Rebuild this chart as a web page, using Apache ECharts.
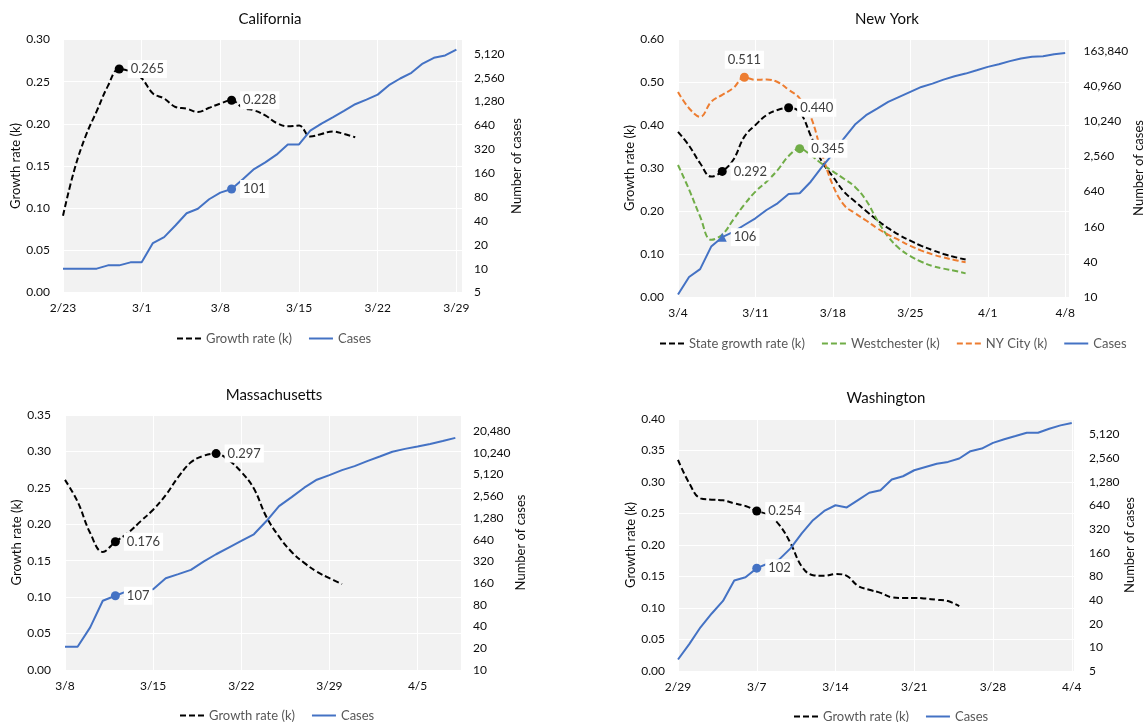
<!DOCTYPE html>
<html>
<head>
<meta charset="utf-8">
<title>Growth rate (k) and cases</title>
<script src="https://cdn.jsdelivr.net/npm/echarts@6/dist/echarts.min.js"></script>
<style>
  html, body { margin: 0; padding: 0; background: #fff; }
  #chart { width: 1146px; height: 722px; }
</style>
</head>
<body>
<div id="chart"></div>
<script>
// tick labels, one every 7 days
const caTicks = ['2/23', '3/1', '3/8', '3/15', '3/22', '3/29'];
const nyTicks = ['3/4', '3/11', '3/18', '3/25', '4/1', '4/8'];
const maTicks = ['3/8', '3/15', '3/22', '3/29', '4/5'];
const waTicks = ['2/29', '3/7', '3/14', '3/21', '3/28', '4/4'];

// California (day 0 = 2/23)
const caGrowth = [0.091, 0.145, 0.185, 0.215, 0.245, 0.265, 0.262, 0.254, 0.236, 0.230, 0.220, 0.218, 0.214, 0.219, 0.224, 0.228, 0.219, 0.216, 0.210, 0.201, 0.197, 0.198, 0.185, 0.188, 0.191, 0.188, 0.184];
const caCases = [10, 10, 10, 10, 11, 11, 12, 12, 21, 25, 35, 50, 57, 75, 91, 101, 134, 180, 219, 274, 368, 368, 550, 675, 810, 977, 1185, 1355, 1565, 2060, 2500, 2950, 3860, 4560, 4880, 5800];
const caGrowthMarks = [5, 15];
const caCaseMarks = [15];

// New York (day 0 = 3/4)
const nyState = [0.384, 0.352, 0.311, 0.280, 0.292, 0.319, 0.373, 0.400, 0.423, 0.435, 0.440, 0.430, 0.375, 0.315, 0.280, 0.245, 0.222, 0.200, 0.179, 0.160, 0.144, 0.131, 0.119, 0.109, 0.100, 0.093, 0.087];
const nyWest = [0.307, 0.250, 0.187, 0.133, 0.145, 0.180, 0.215, 0.245, 0.268, 0.295, 0.328, 0.345, 0.330, 0.310, 0.292, 0.275, 0.256, 0.225, 0.179, 0.140, 0.113, 0.095, 0.082, 0.072, 0.066, 0.061, 0.055];
const nyCity = [0.477, 0.439, 0.419, 0.454, 0.470, 0.486, 0.511, 0.505, 0.506, 0.500, 0.482, 0.462, 0.419, 0.334, 0.260, 0.214, 0.195, 0.178, 0.160, 0.145, 0.132, 0.119, 0.108, 0.099, 0.092, 0.086, 0.081];
const nyCases = [11, 22, 30, 73, 106, 130, 171, 223, 309, 403, 581, 597, 944, 1670, 2820, 5230, 9000, 13000, 16900, 22000, 26800, 32600, 39600, 45200, 52900, 60400, 67100, 76500, 87400, 96900, 109600, 121700, 129800, 133000, 143800, 151600];
const nyStateMarks = [4, 10];
const nyWestMarks = [11];
const nyCityMarks = [6];
const nyCaseMarks = [4];

// Massachusetts (day 0 = 3/8)
const maGrowth = [0.261, 0.231, 0.188, 0.162, 0.176, 0.188, 0.204, 0.220, 0.240, 0.265, 0.285, 0.294, 0.297, 0.288, 0.272, 0.249, 0.210, 0.183, 0.162, 0.147, 0.135, 0.126, 0.118];
const maCases = [21, 21, 39, 91, 107, 125, 132, 132, 187, 213, 244, 318, 402, 497, 614, 760, 1160, 1870, 2490, 3360, 4340, 5020, 5890, 6700, 7860, 9110, 10600, 11600, 12500, 13600, 14900, 16500];
const maGrowthMarks = [4, 12];
const maCaseMarks = [4];

// Washington (day 0 = 2/29)
const waGrowth = [0.335, 0.298, 0.274, 0.272, 0.271, 0.266, 0.262, 0.254, 0.248, 0.232, 0.203, 0.166, 0.152, 0.151, 0.154, 0.151, 0.135, 0.129, 0.124, 0.117, 0.116, 0.116, 0.115, 0.113, 0.111, 0.103];
const waCases = [7, 11, 18, 27, 39, 71, 78, 102, 117, 132, 182, 282, 416, 546, 645, 605, 750, 930, 1004, 1370, 1510, 1800, 1980, 2180, 2300, 2540, 3150, 3400, 4020, 4460, 4910, 5410, 5410, 6090, 6710, 7190];
const waGrowthMarks = [7];
const waCaseMarks = [7];

const BLUE = '#4472C4', ORANGE = '#ED7D31', GREEN = '#70AD47', BLACK = '#000000';
const FONT = 'Lato';
const TXT = '#0d0d0d';

const chart = echarts.init(document.getElementById('chart'));

const markLabel = {
    show: true, position: 'right', distance: 4,
    fontFamily: FONT, fontSize: 13, color: '#404040',
    backgroundColor: '#fff', padding: [3, 3, 2, 3]
};

function grid(left, top, width, height) {
    return { left, top, width, height, show: true, backgroundColor: '#F2F2F2', borderWidth: 0 };
}

function dayAxis(gridIndex, ticks, max) {
    return {
        type: 'value', gridIndex, min: 0, max, interval: 7,
        axisLine: { show: false }, axisTick: { show: false },
        axisLabel: {
            margin: 10, fontSize: 12, color: TXT, fontFamily: FONT,
            formatter: v => (v % 7 === 0 && ticks[v / 7]) ? ticks[v / 7] : ''
        },
        splitLine: { show: true, lineStyle: { color: '#fff', width: 1 } }
    };
}

function rateAxis(gridIndex, max, interval, gap, margin) {
    return {
        type: 'value', gridIndex, position: 'left', min: 0, max, interval,
        name: 'Growth rate (k)', nameLocation: 'middle', nameGap: gap,
        nameTextStyle: { fontSize: 13, color: TXT, fontFamily: FONT },
        axisLine: { show: false }, axisTick: { show: false },
        axisLabel: { margin, fontSize: 12, color: TXT, fontFamily: FONT, formatter: v => v.toFixed(2) },
        splitLine: { show: true, lineStyle: { color: '#fff', width: 1 } }
    };
}

// cases drawn as log2(cases / base) on a linear axis, labelled back in cases
function caseAxis(gridIndex, base, step, max, gap, margin) {
    return {
        type: 'value', gridIndex, position: 'right', min: 0, max, interval: step,
        name: 'Number of cases', nameLocation: 'middle', nameGap: gap,
        nameTextStyle: { fontSize: 13, color: TXT, fontFamily: FONT },
        axisLine: { show: false }, axisTick: { show: false },
        axisLabel: {
            margin, fontSize: 12, color: TXT, fontFamily: FONT, showMaxLabel: false,
            formatter: v => Math.round(base * Math.pow(2, v)).toLocaleString('en-US')
        },
        splitLine: { show: false }
    };
}

function rateSeries(name, values, color, panel) {
    return {
        type: 'line', name, xAxisIndex: panel, yAxisIndex: panel * 2,
        smooth: 0.4, symbol: 'none', z: 3,
        lineStyle: { color, width: 2, type: [6, 3] },
        itemStyle: { color },
        data: values.map((v, i) => [i, v])
    };
}

function caseSeries(values, base, panel) {
    return {
        type: 'line', name: 'Cases', xAxisIndex: panel, yAxisIndex: panel * 2 + 1,
        symbol: 'none', z: 4,
        lineStyle: { color: BLUE, width: 2 },
        itemStyle: { color: BLUE },
        data: values.map((c, i) => [i, Math.log2(c / base)])
    };
}

// highlighted points with their value boxes, drawn above all lines
function rateMarks(values, marks, color, panel, pos) {
    return {
        type: 'scatter', name: 'marks', xAxisIndex: panel, yAxisIndex: panel * 2,
        symbol: 'circle', symbolSize: 9, z: 10,
        itemStyle: { color, opacity: 1 },
        label: Object.assign({}, markLabel, { position: pos || 'right', formatter: p => p.value[1].toFixed(3) }),
        data: marks.map(i => [i, values[i]])
    };
}

function caseMarks(values, base, marks, panel, symbol) {
    return {
        type: 'scatter', name: 'marks', xAxisIndex: panel, yAxisIndex: panel * 2 + 1,
        symbol: symbol || 'circle', symbolSize: 9, z: 10,
        itemStyle: { color: BLUE, opacity: 1 },
        label: Object.assign({}, markLabel, { formatter: p => String(values[p.value[0]]) }),
        data: marks.map(i => [i, Math.log2(values[i] / base)])
    };
}

function title(text, x, top) {
    return { text, left: x, top, textAlign: 'center',
        textStyle: { fontSize: 15, fontWeight: 'normal', color: TXT, fontFamily: FONT } };
}

function legend(left, top, names) {
    return {
        left, top, data: names, itemWidth: 24, itemHeight: 12, itemGap: 16,
        itemStyle: { opacity: 0 },
        textStyle: { fontSize: 13, color: '#595959', fontFamily: FONT }
    };
}

const option = {
    animation: false,
    title: [
        title('California', 265, 7),
        title('New York', 882, 7),
        title('Massachusetts', 269, 383),
        title('Washington', 881, 386)
    ],
    legend: [
        legend(171, 327, ['Growth rate (k)', 'Cases']),
        legend(654, 332, ['State growth rate (k)', 'Westchester (k)', 'NY City (k)', 'Cases']),
        legend(174, 704, ['Growth rate (k)', 'Cases']),
        legend(788, 705, ['Growth rate (k)', 'Cases'])
    ],
    grid: [
        grid(63, 39.5, 399, 253),
        grid(678, 39, 393, 258),
        grid(65, 415, 396, 255),
        grid(678, 419, 396, 252)
    ],
    xAxis: [
        dayAxis(0, caTicks, 35.5),
        dayAxis(1, nyTicks, 35.4),
        dayAxis(2, maTicks, 31.45),
        dayAxis(3, waTicks, 35.2)
    ],
    yAxis: [
        rateAxis(0, 0.30, 0.05, 39, 13),
        caseAxis(0, 5, 1, 10.6, 48, 12),
        rateAxis(1, 0.60, 0.10, 39, 14),
        caseAxis(1, 10, 2, 14.68, 62, 14),
        rateAxis(2, 0.35, 0.05, 39, 14),
        caseAxis(2, 10, 1, 11.74, 53, 12),
        rateAxis(3, 0.40, 0.05, 38, 13),
        caseAxis(3, 5, 1, 10.66, 49, 15)
    ],
    series: [
        rateSeries('Growth rate (k)', caGrowth, BLACK, 0),
        caseSeries(caCases, 5, 0),
        rateSeries('State growth rate (k)', nyState, BLACK, 1),
        rateSeries('Westchester (k)', nyWest, GREEN, 1),
        rateSeries('NY City (k)', nyCity, ORANGE, 1),
        caseSeries(nyCases, 10, 1),
        rateSeries('Growth rate (k)', maGrowth, BLACK, 2),
        caseSeries(maCases, 10, 2),
        rateSeries('Growth rate (k)', waGrowth, BLACK, 3),
        caseSeries(waCases, 5, 3),
        rateMarks(caGrowth, caGrowthMarks, BLACK, 0),
        caseMarks(caCases, 5, caCaseMarks, 0),
        rateMarks(nyState, nyStateMarks, BLACK, 1),
        rateMarks(nyWest, nyWestMarks, GREEN, 1),
        rateMarks(nyCity, nyCityMarks, ORANGE, 1, 'top'),
        caseMarks(nyCases, 10, nyCaseMarks, 1, 'triangle'),
        rateMarks(maGrowth, maGrowthMarks, BLACK, 2),
        caseMarks(maCases, 10, maCaseMarks, 2),
        rateMarks(waGrowth, waGrowthMarks, BLACK, 3),
        caseMarks(waCases, 5, waCaseMarks, 3)
    ]
};

chart.setOption(option);
</script>
</body>
</html>
